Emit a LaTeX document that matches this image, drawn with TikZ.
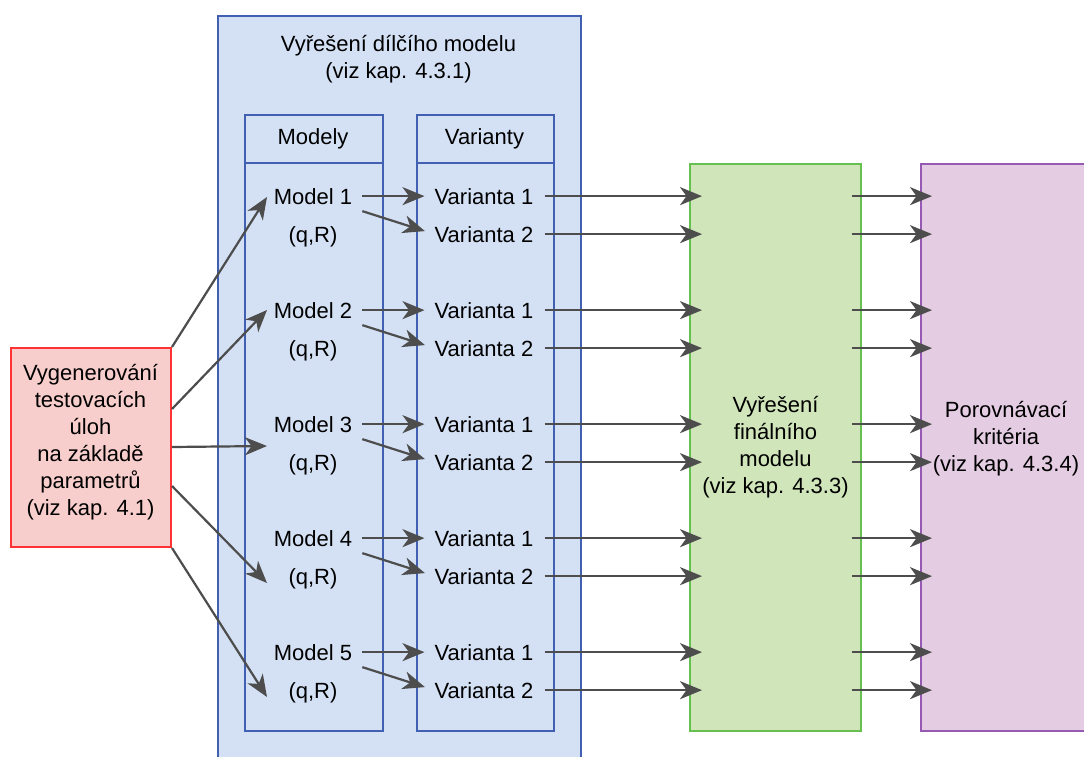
\documentclass[tikz,border=0pt]{standalone}
\usepackage{fontspec}
\setmainfont{Liberation Sans}
\usetikzlibrary{arrows.meta,calc}
\definecolor{bfill}{RGB}{212,225,245}
\definecolor{bstroke}{RGB}{66,96,178}
\definecolor{rfill}{RGB}{248,206,204}
\definecolor{rstroke}{RGB}{255,51,51}
\definecolor{gfill}{RGB}{208,229,185}
\definecolor{gstroke}{RGB}{102,192,80}
\definecolor{pfill}{RGB}{228,204,226}
\definecolor{pstroke}{RGB}{150,90,180}
\definecolor{arrc}{RGB}{77,77,77}
\begin{document}
\begin{tikzpicture}[x=1pt,y=-1pt,
  txt/.style={inner sep=0pt, font=\fontsize{22}{27}\selectfont, align=center},
  boxb/.style={draw=bstroke, fill=bfill, line width=2pt, inner sep=0pt, anchor=north west},
  boxr/.style={draw=rstroke, fill=rfill, line width=2pt, inner sep=0pt, anchor=north west},
  boxg/.style={draw=gstroke, fill=gfill, line width=2pt, inner sep=0pt, anchor=north west, font=\fontsize{22}{27}\selectfont, align=center},
  boxp/.style={draw=pstroke, fill=pfill, line width=2pt, inner sep=0pt, anchor=north west},
  arr/.style={draw=arrc, line width=2.2pt, -{Stealth[length=22pt,width=18pt,inset=6.5pt,fill=arrc]}},
  gap/.style={shorten <=10pt, shorten >=10pt}
]
\useasboundingbox (0,0) rectangle (1084,756);
\clip (0,0) rectangle (1084,756);

% outer container
\node[boxb, minimum width=363pt, minimum height=780pt] (sub) at (217,15) {};
\node[txt] (subtitle) at (398.5,59.3) {Vyřešení dílčího modelu\\(viz kap. 4.3.1)};

% columns
\node[boxb, minimum width=138pt, minimum height=616pt] (colM) at (244,114) {};
\node[boxb, minimum width=137pt, minimum height=616pt] (colV) at (416,114) {};
\coordinate (hM) at (244,163);
\coordinate (hV) at (416,163);
\draw[draw=bstroke, line width=2pt] (hM) -- (hM -| colM.east);
\draw[draw=bstroke, line width=2pt] (hV) -- (hV -| colV.east);
\node[txt, anchor=base] (hdrM) at (313,144) {Modely};
\node[txt, anchor=base] (hdrV) at (484.5,144) {Varianty};

% generator box
\node[boxr, minimum width=160pt, minimum height=199pt] (gen) at (10,347) {};
\node[txt] (gentxt) at (90.5,442) {Vygenerování\\testovacích\\úloh\\na základě\\parametrů\\(viz kap. 4.1)};

% final and criteria boxes
\node[boxg, minimum width=171pt, minimum height=567pt] (fin) at (689,163) {Vyřešení\\finálního\\modelu\\(viz kap. 4.3.3)};
\node[boxp, minimum width=172pt, minimum height=567pt] (por) at (920,163) {};
\node[txt] (portxt) at (1006,439) {Porovnávací\\kritéria\\(viz kap. 4.3.4)};

% model rows
\foreach \k in {1,...,5}{
  \pgfmathsetmacro{\yb}{204+114*(\k-1)}
  \node[txt, anchor=base] (m\k) at (313,\yb) {Model \k};
  \node[txt, anchor=base] (q\k) at (313,\yb+38) {(q,R)};
  \node[txt, anchor=base] (v\k a) at (484,\yb) {Varianta 1};
  \node[txt, anchor=base] (v\k b) at (484,\yb+38) {Varianta 2};
  \draw[arr, gap] (m\k.east) -- (v\k a.west);
  \draw[arr, shorten >=10pt] ([xshift=10pt,yshift=-15pt]m\k.east) -- (v\k b.west);
  \draw[arr] ([xshift=11pt]v\k a.east) -- ([xshift=13pt]v\k a.east -| fin.west);
  \draw[arr] ([xshift=11pt]v\k b.east) -- ([xshift=13pt]v\k b.east -| fin.west);
  \draw[arr] ([xshift=-10pt]v\k a.east -| fin.east) -- ([xshift=12pt]v\k a.east -| por.west);
  \draw[arr] ([xshift=-10pt]v\k b.east -| fin.east) -- ([xshift=12pt]v\k b.east -| por.west);
}

% generator arrows
\coordinate (t1) at (267,197);
\coordinate (t2) at (267,310);
\coordinate (t3) at (267,446);
\coordinate (t4) at (267,583);
\coordinate (t5) at (267,697);
\draw[arr] (gen.north east) -- (t1);
\draw[arr] ($(gen.east)+(0,-38.5)$) -- (t2);
\draw[arr] ($(gen.east)+(0,-0.5)$) -- (t3);
\draw[arr] ($(gen.east)+(0,38.5)$) -- (t4);
\draw[arr] (gen.south east) -- (t5);
\end{tikzpicture}
\end{document}
